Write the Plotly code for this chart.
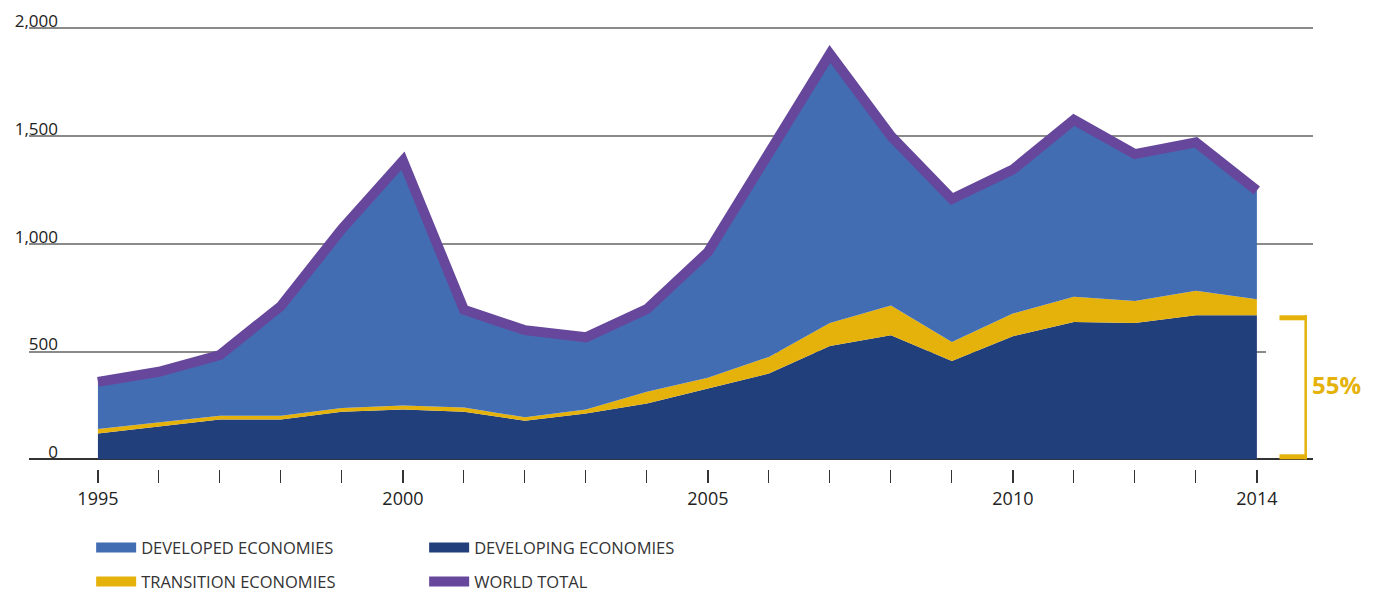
import plotly.graph_objects as go

# FDI inflows by group of economies, 1995-2014 (billions of dollars)
years = list(range(1995, 2015))
developing = [120, 154, 185, 185, 220, 231, 220, 179, 213, 259,
              329, 398, 526, 575, 456, 571, 637, 632, 668, 668]
transition = [20, 18, 17, 17, 18, 18, 20, 16, 18, 54,
              49, 77, 106, 139, 88, 105, 117, 102, 114, 74]
developed = [219, 234, 282, 509, 831, 1136, 454, 404, 335, 384,
             583, 948, 1248, 786, 664, 668, 821, 682, 688, 505]
world_total = [359, 406, 484, 711, 1069, 1385, 694, 599, 566, 697,
               961, 1423, 1880, 1500, 1208, 1344, 1575, 1416, 1470, 1247]

y_ticks = [0, 500, 1000, 1500, 2000]
y_ticktext = ["0", "500", "1,000", "1,500", "2,000"]
x_ticks = [1995, 2000, 2005, 2010, 2014]
share_label = "55%"

COLOR_DEVELOPED = "#436db3"
COLOR_DEVELOPING = "#213f7a"
COLOR_TRANSITION = "#e5b20b"
COLOR_WORLD = "#66479b"
FONT = "Open Sans, sans-serif"

fig = go.Figure()

# stacked areas: developing at the bottom, then transition, then developed
area_series = [
    ("DEVELOPING ECONOMIES", developing, COLOR_DEVELOPING, "legend", 2),
    ("TRANSITION ECONOMIES", transition, COLOR_TRANSITION, "legend2", 3),
    ("DEVELOPED ECONOMIES", developed, COLOR_DEVELOPED, "legend", 1),
]
for name, vals, color, leg, rank in area_series:
    fig.add_trace(go.Scatter(
        x=years, y=vals, name=name, legendgroup=name,
        stackgroup="fdi", mode="lines", line=dict(width=0),
        fillcolor=color, showlegend=False,
    ))
    # legend-only entry so the swatch is a solid block like the original
    fig.add_trace(go.Scatter(
        x=[None], y=[None], name=name, legendgroup=name,
        mode="lines", line=dict(color=color, width=17),
        legend=leg, legendrank=rank, hoverinfo="skip",
    ))

# world total line on top
fig.add_trace(go.Scatter(
    x=years, y=world_total, name="WORLD TOTAL",
    mode="lines", line=dict(color=COLOR_WORLD, width=10),
    legend="legend2", legendrank=4,
))

# hide the 500 gridline right of the data (behind the bracket)
fig.add_shape(type="rect", xref="x", yref="y",
              x0=2014.15, x1=2015.5, y0=300, y1=700,
              fillcolor="white", line=dict(width=0), layer="between")

# bracket showing developing economies' share in 2014
last_dev = developing[-1]
fig.add_shape(type="line", xref="x", yref="y",
              x0=2014.8, x1=2014.8, y0=0, y1=last_dev,
              line=dict(color=COLOR_TRANSITION, width=2.5))
fig.add_shape(type="rect", xref="x", yref="y", ysizemode="pixel",
              x0=2014.37, x1=2014.82, yanchor=last_dev, y0=-5, y1=0,
              fillcolor=COLOR_TRANSITION, line=dict(width=0))
fig.add_shape(type="rect", xref="x", yref="y", ysizemode="pixel",
              x0=2014.37, x1=2014.82, yanchor=0, y0=0, y1=5,
              fillcolor=COLOR_TRANSITION, line=dict(width=0))
fig.add_annotation(
    x=2014.82, y=last_dev / 2, xref="x", yref="y",
    text=f"<b>{share_label}</b>", showarrow=False,
    xanchor="left", yanchor="middle", xshift=3, yshift=3,
    font=dict(family=FONT, size=24, color=COLOR_TRANSITION),
)

legend_common = dict(
    orientation="h", xanchor="left", yanchor="middle",
    entrywidth=278, entrywidthmode="pixels", itemwidth=40,
    traceorder="normal", bgcolor="rgba(0,0,0,0)",
    font=dict(family=FONT, size=16.5, color="#333333"),
)

# the page body adds an 8px offset, so the figure is 8px smaller here
fig.update_layout(
    width=1371, height=584,
    paper_bgcolor="white", plot_bgcolor="white",
    margin=dict(l=21, r=66, t=18, b=123, autoexpand=False),
    showlegend=True,
    legend=dict(x=0.0484, y=-0.178, **legend_common),
    legend2=dict(x=0.0484, y=-0.2545, **legend_common),
    xaxis=dict(
        range=[1993.87, 2014.92],
        tickvals=x_ticks, ticktext=[str(v) for v in x_ticks],
        ticks="outside", ticklen=13, tickwidth=2.3, tickcolor="#333333",
        minor=dict(tickmode="array", tickvals=years, ticks="outside",
                   ticklen=13, tickwidth=1, tickcolor="#333333",
                   showgrid=False),
        showgrid=False, zeroline=False, showline=False, automargin=False,
        tickfont=dict(family=FONT, size=18, color="#222222"),
    ),
    yaxis=dict(
        range=[-45, 2010],
        tickvals=y_ticks, ticktext=y_ticktext,
        showgrid=True, gridcolor="#8a8a8a", gridwidth=1.5,
        zeroline=True, zerolinecolor="#333333", zerolinewidth=2,
        showline=False, ticks="", automargin=False,
        ticklabelshift=-7, ticklabelstandoff=-30,
        ticklabeloverflow="allow",
        tickfont=dict(family=FONT, size=17, color="#222222"),
    ),
)

fig.write_html("out.html")
